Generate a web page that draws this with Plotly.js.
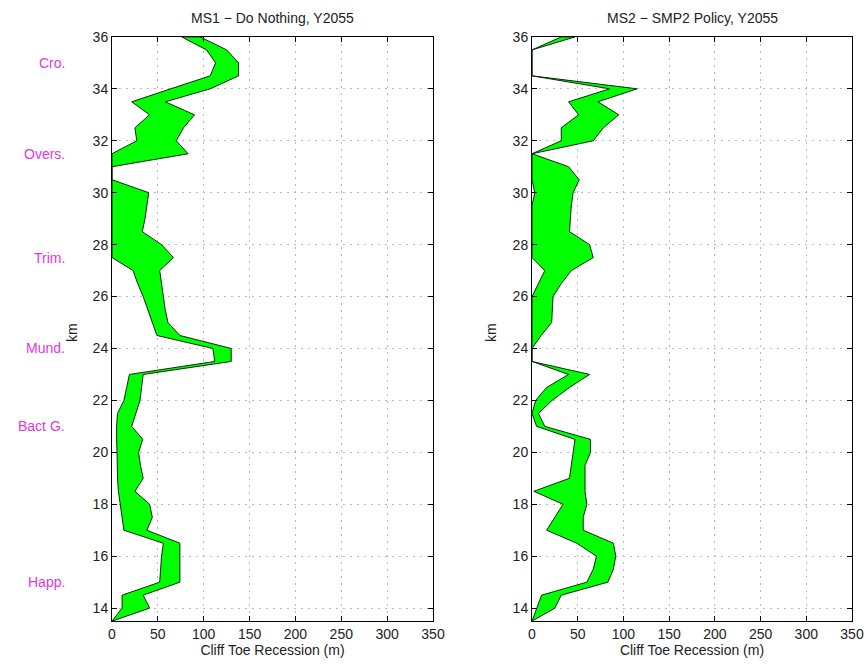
<!DOCTYPE html>
<html>
<head>
<meta charset="utf-8">
<script src="https://cdn.plot.ly/plotly-3.0.1.min.js"></script>
<style>html,body{margin:0;padding:0;background:#fff;}#chart{width:866px;height:665px;}</style>
</head>
<body>
<div id="chart"></div>
<script>
// Chainage along coast (km)
var km = [13.5,14.0,14.5,15.0,15.5,16.0,16.5,17.0,17.5,18.0,18.5,19.0,19.5,20.0,20.5,21.0,21.5,22.0,22.5,23.0,23.5,24.0,24.5,25.0,25.5,26.0,26.5,27.0,27.5,28.0,28.5,29.0,29.5,30.0,30.5,31.0,31.5,32.0,32.5,33.0,33.5,34.0,34.5,35.0,35.5,36.0];

// MS1 - Do Nothing, Y2055: lower and upper cliff toe recession (m)
var ms1Lower = [0,11,11,52,53,54,56,13,11,9,7,6,6,5.5,5,5,6,13,16,19,112,110,49,44,39,34,28,23,0,0,0,0,0,0,0,0,0,27,25,41,21.5,64,107,113,103,76];
var ms1Upper = [0,41,34,74,74,74,74,38,44,41,25,34,31,29,33.5,21.5,26,30.5,32,34,130,130,74,61,58,56,54,52,67,54,33,36,38,40,0,0,83,70,78,90,58,107,138,138,125,96];

// MS2 - SMP2 Policy, Y2055
var ms2Lower = [0,5,10.5,60,67,70.5,49,16,25,34,2,41,43,45,47,5,0,4,16,40,0,0,0,0,0,0,7,14,0,0,0,0,0,3,0,0,0,32,32,51,40,85,0,0,0,32];
var ms2Upper = [0,25,32,83,89,91.6,89,56,56,60,58,58,58,64,64,14,7,22,41,63,0,0,10,21.5,22,23,32,43,67,63,41,42,43,45,51.6,40,0,67,78,95,72,115,0,0,0,47];

// Place labels along the coast
var placeNames = ["Cro.","Overs.","Trim.","Mund.","Bact G.","Happ."];
var placeKm = [35.0,31.5,27.5,24.0,21.0,15.0];

var xTicks = [0,50,100,150,200,250,300,350];
var yTicks = [14,16,18,20,22,24,26,28,30,32,34,36];

function polygon(lower, upper){
  var x = lower.slice(), y = km.slice();
  for (var i = km.length-1; i >= 0; i--){ x.push(upper[i]); y.push(km[i]); }
  x.push(lower[0]); y.push(km[0]);
  return {x:x, y:y};
}
var p1 = polygon(ms1Lower, ms1Upper);
var p2 = polygon(ms2Lower, ms2Upper);

var traces = [
  {x:p1.x, y:p1.y, xaxis:'x', yaxis:'y', type:'scatter', mode:'lines', fill:'toself',
   fillcolor:'#00ff00', line:{color:'#0a2a0a', width:1}, hoverinfo:'skip', showlegend:false},
  {x:p2.x, y:p2.y, xaxis:'x2', yaxis:'y2', type:'scatter', mode:'lines', fill:'toself',
   fillcolor:'#00ff00', line:{color:'#0a2a0a', width:1}, hoverinfo:'skip', showlegend:false}
];

var font = {family:'Liberation Sans, Arial, sans-serif', size:14, color:'#222'};
function xax(domain){
  return {domain:domain, range:[0,350], tickvals:xTicks, ticks:'inside', ticklen:5, tickcolor:'#000',
    showline:true, linecolor:'#000', linewidth:1, mirror:'ticks', showgrid:true, gridcolor:'#b8b8b8',
    griddash:'2px,5px', gridwidth:1, zeroline:false, tickfont:font,
    title:{text:'Cliff Toe Recession (m)', font:font, standoff:4}, automargin:false};
}
function yax(anchor){
  return {domain:[0.066,0.9445], range:[13.5,36], tickvals:yTicks, ticks:'inside', ticklen:5, tickcolor:'#000',
    showline:true, linecolor:'#000', linewidth:1, mirror:'ticks', showgrid:true, gridcolor:'#b8b8b8',
    griddash:'2px,5px', gridwidth:1, zeroline:false, tickfont:font, anchor:anchor, automargin:false};
}

var annotations = [
  {text:'MS1 − Do Nothing, Y2055', xref:'paper', yref:'paper', x:(112+433)/2/866, y:1-18/665, showarrow:false, font:font, xanchor:'center', yanchor:'middle'},
  {text:'MS2 − SMP2 Policy, Y2055', xref:'paper', yref:'paper', x:(532+852)/2/866, y:1-18/665, showarrow:false, font:font, xanchor:'center', yanchor:'middle'},
  {text:'km', xref:'paper', yref:'paper', x:72/866, y:1-333/665, textangle:-90, showarrow:false, font:font, xanchor:'center', yanchor:'middle'},
  {text:'km', xref:'paper', yref:'paper', x:491/866, y:1-333/665, textangle:-90, showarrow:false, font:font, xanchor:'center', yanchor:'middle'}
];
for (var i = 0; i < placeNames.length; i++){
  annotations.push({text:placeNames[i], xref:'paper', yref:'y', x:67/866, y:placeKm[i], showarrow:false,
    xanchor:'right', yanchor:'middle', font:{family:font.family, size:14, color:'#e038e0'}});
}

var layout = {
  width:866, height:665, margin:{l:0,r:0,t:0,b:0}, paper_bgcolor:'#fff', plot_bgcolor:'#fff',
  xaxis: xax([112/866, 433/866]), yaxis: yax('x'),
  xaxis2: Object.assign(xax([532/866, 852/866]), {anchor:'y2'}), yaxis2: yax('x2'),
  annotations: annotations, showlegend:false
};
layout.xaxis.anchor = 'y';

Plotly.newPlot('chart', traces, layout, {displayModeBar:false, staticPlot:true});
</script>
</body>
</html>
